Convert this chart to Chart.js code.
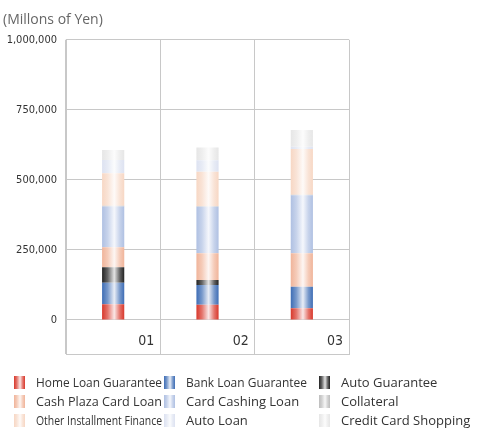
<!DOCTYPE html>
<html>
<head>
<meta charset="utf-8">
<script src="https://cdn.jsdelivr.net/npm/chart.js@4"></script>
<style>
  html, body { margin: 0; padding: 0; background: #fff; }
  #wrap { width: 495px; height: 432px; }
</style>
</head>
<body>
<div id="wrap"><canvas id="yenChart"></canvas></div>
<script>
const categories = ["01", "02", "03"];
const seriesNames = [
  "Home Loan Guarantee", "Bank Loan Guarantee", "Auto Guarantee",
  "Cash Plaza Card Loan", "Card Cashing Loan", "Collateral",
  "Other Installment Finance", "Auto Loan", "Credit Card Shopping"
];
const homeLoanGuarantee = [56000, 54000, 42000];
const bankLoanGuarantee = [77000, 71000, 77000];
const autoGuarantee = [55000, 18000, 0];
const cashPlazaCardLoan = [72000, 95000, 119000];
const cardCashingLoan = [145000, 166000, 207000];
const collateral = [3000, 2000, 2000];
const otherInstallment = [116000, 123000, 163000];
const autoLoan = [47000, 41000, 8000];
const creditCardShopping = [36000, 46000, 60000];
const yTicks = [0, 250000, 500000, 750000, 1000000];

const seriesValues = [
  homeLoanGuarantee, bankLoanGuarantee, autoGuarantee,
  cashPlazaCardLoan, cardCashingLoan, collateral,
  otherInstallment, autoLoan, creditCardShopping
];
const seriesColors = [
  "#d8382c", "#3e6db5", "#222222",
  "#f0b49a", "#afc0e2", "#bdbdbd",
  "#f7d7c4", "#dde2f1", "#e6e6e6"
];
const BAR_PCT = 0.235;
const NARROW = "'Liberation Sans Narrow', 'DejaVu Sans Condensed', Roboto, sans-serif";

// blend a hex colour toward white
function lighten(hex, t) {
  const n = parseInt(hex.slice(1), 16);
  const r = (n >> 16) & 255, g = (n >> 8) & 255, b = n & 255;
  const m = (v) => Math.round(v + (255 - v) * t);
  return "rgb(" + m(r) + "," + m(g) + "," + m(b) + ")";
}

function cylinder(ctx, x0, x1, color) {
  const g = ctx.createLinearGradient(x0, 0, x1, 0);
  g.addColorStop(0, color);
  g.addColorStop(0.25, lighten(color, 0.3));
  g.addColorStop(0.55, lighten(color, 0.88));
  g.addColorStop(0.8, lighten(color, 0.3));
  g.addColorStop(1, color);
  return g;
}

function barFill(c) {
  const color = seriesColors[c.datasetIndex];
  const xs = c.chart.scales.x;
  if (!xs || c.dataIndex === undefined || !xs.width) return color;
  const cx = xs.getPixelForValue(c.dataIndex);
  const w = xs.width / categories.length * BAR_PCT;
  return cylinder(c.chart.ctx, cx - w / 2, cx + w / 2, color);
}

const cellLabels = {
  id: "cellLabels",
  afterDraw(chart) {
    const { ctx, chartArea, scales } = chart;
    const cellW = scales.x.width / categories.length;
    ctx.save();
    ctx.font = "14px " + NARROW;
    ctx.fillStyle = "#333";
    ctx.textAlign = "right";
    ctx.textBaseline = "middle";
    categories.forEach((c, i) => {
      ctx.fillText(c, scales.x.getPixelForValue(i) + cellW / 2 - 6, chartArea.bottom - 13, 17);
    });
    ctx.restore();
  }
};

const gridLegend = {
  id: "gridLegend",
  afterDraw(chart) {
    const ctx = chart.ctx;
    const colX = [14, 164, 319];
    const colMax = [126, 121, 153];
    const rowY = [383, 402, 421];
    ctx.save();
    ctx.font = "13px 'Open Sans'";
    ctx.textBaseline = "middle";
    ctx.textAlign = "left";
    chart.data.datasets.forEach((ds, i) => {
      const x = colX[i % 3];
      const y = rowY[Math.floor(i / 3)];
      ctx.fillStyle = cylinder(ctx, x, x + 11, seriesColors[i]);
      ctx.fillRect(x, y - 7, 11, 13);
      ctx.fillStyle = "#333";
      ctx.fillText(ds.label, x + 22, y, colMax[i % 3]);
    });
    ctx.restore();
  }
};

const ctx = document.getElementById("yenChart").getContext("2d");
const yenChart = new Chart(ctx, {
  type: "bar",
  data: {
    labels: categories,
    datasets: seriesNames.map((name, i) => ({
      label: name,
      data: seriesValues[i],
      backgroundColor: barFill,
      borderWidth: 0,
      categoryPercentage: 1,
      barPercentage: BAR_PCT,
    })),
  },
  options: {
    responsive: true,
    maintainAspectRatio: false,
    animation: false,
    layout: {
      padding: { left: 3, right: 146, top: 0, bottom: 78 },
    },
    scales: {
      x: {
        stacked: true,
        grid: { color: "#c8c8c8", drawTicks: false, offset: true },
        border: { color: "#c8c8c8" },
        ticks: { display: false },
      },
      y: {
        stacked: true,
        min: -121429,
        max: 1000000,
        afterBuildTicks: (axis) => {
          axis.ticks = yTicks.map((v) => ({ value: v }));
        },
        afterFit: (axis) => {
          axis.width = 63;
        },
        grid: { color: "#c8c8c8", drawTicks: false },
        border: { color: "#c8c8c8" },
        ticks: {
          padding: 9,
          color: "#333",
          font: { family: NARROW, size: 11 },
          callback: function (value) {
            return value.toLocaleString("en-US");
          },
        },
      },
    },
    plugins: {
      legend: { display: false },
      tooltip: { enabled: false },
      title: {
        display: true,
        text: "(Millons of Yen)",
        align: "start",
        color: "#666",
        font: { family: "'Open Sans'", size: 14, weight: "normal" },
        padding: { top: 12, bottom: 11 },
      },
    },
  },
  plugins: [cellLabels, gridLegend],
});
</script>
</body>
</html>
